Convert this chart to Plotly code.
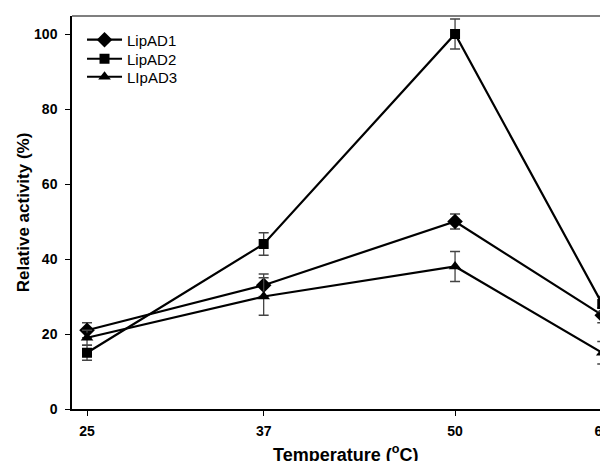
import plotly.graph_objects as go

temps = [25, 37, 50, 60]
names = ["LipAD1", "LipAD2", "LIpAD3"]
lipad1 = [21, 33, 50, 25]
lipad1_err = [2, 3, 2, 2]
lipad2 = [15, 44, 100, 28]
lipad2_err = [2, 3, 4, 2]
lipad3 = [19, 30, 38, 15]
lipad3_err = [2, 5, 4, 3]
y_ticks = [0, 20, 40, 60, 80, 100]
x_ticks = [25, 37, 50, 60]

series = [
    (names[0], lipad1, lipad1_err, "diamond", 12, "legend"),
    (names[1], lipad2, lipad2_err, "square", 10, "legend2"),
    (names[2], lipad3, lipad3_err, "triangle-up", 11, "legend3"),
]

fig = go.Figure()
for name, vals, errs, sym, sz, lg in series:
    fig.add_trace(go.Scatter(
        x=temps, y=vals, name=name, mode="lines+markers",
        line=dict(color="black", width=2.2),
        marker=dict(symbol=sym, size=sz, color="black"),
        error_y=dict(type="data", array=errs, visible=True,
                     color="#444444", thickness=1.3, width=5),
        cliponaxis=False, legend=lg,
    ))

font = "Liberation Sans, Arial, sans-serif"
leg_common = dict(x=0.0187, xanchor="left", yanchor="middle",
                  bgcolor="rgba(0,0,0,0)", font=dict(size=15, family=font),
                  itemwidth=35)
fig.update_layout(
    width=600, height=453,
    margin=dict(l=64, r=0, t=8, b=52, autoexpand=False),
    paper_bgcolor="white", plot_bgcolor="white",
    font=dict(family=font, color="black"),
    showlegend=True,
    legend=dict(y=0.939, **leg_common),
    legend2=dict(y=0.8906, **leg_common),
    legend3=dict(y=0.8448, **leg_common),
    xaxis=dict(range=[23.98, 60.39], tickvals=x_ticks, ticks="outside",
               ticklen=5, tickwidth=1, tickcolor="black",
               showline=True, linecolor="black", linewidth=1.5,
               mirror=False, showgrid=False, zeroline=False, automargin=False,
               ticklabeloverflow="allow", ticklabelstandoff=3,
               tickfont=dict(size=14, family=font, weight="bold")),
    yaxis=dict(range=[0, 104.8], tickvals=y_ticks, ticks="outside",
               ticklen=5, tickwidth=1, tickcolor="black",
               showline=True, linecolor="black", linewidth=1.5,
               showgrid=False, zeroline=False, automargin=False,
               ticklabelstandoff=5,
               tickfont=dict(size=14, family=font, weight="bold"),
               title=dict(text="Relative activity (%)",
                          font=dict(size=17, family=font, weight="bold"),
                          standoff=0)),
    annotations=[dict(text="Temperature (<sup>o</sup>C)", xref="paper", yref="paper",
                      x=0.511, y=0, xanchor="center", yanchor="middle",
                      yshift=-44, showarrow=False,
                      font=dict(size=18, family=font, weight="bold"))],
)
fig.add_shape(type="line", xref="paper", yref="paper", x0=0, x1=1, y0=1, y1=1,
              line=dict(color="#555555", width=1.5))

fig.write_html("out.html")
